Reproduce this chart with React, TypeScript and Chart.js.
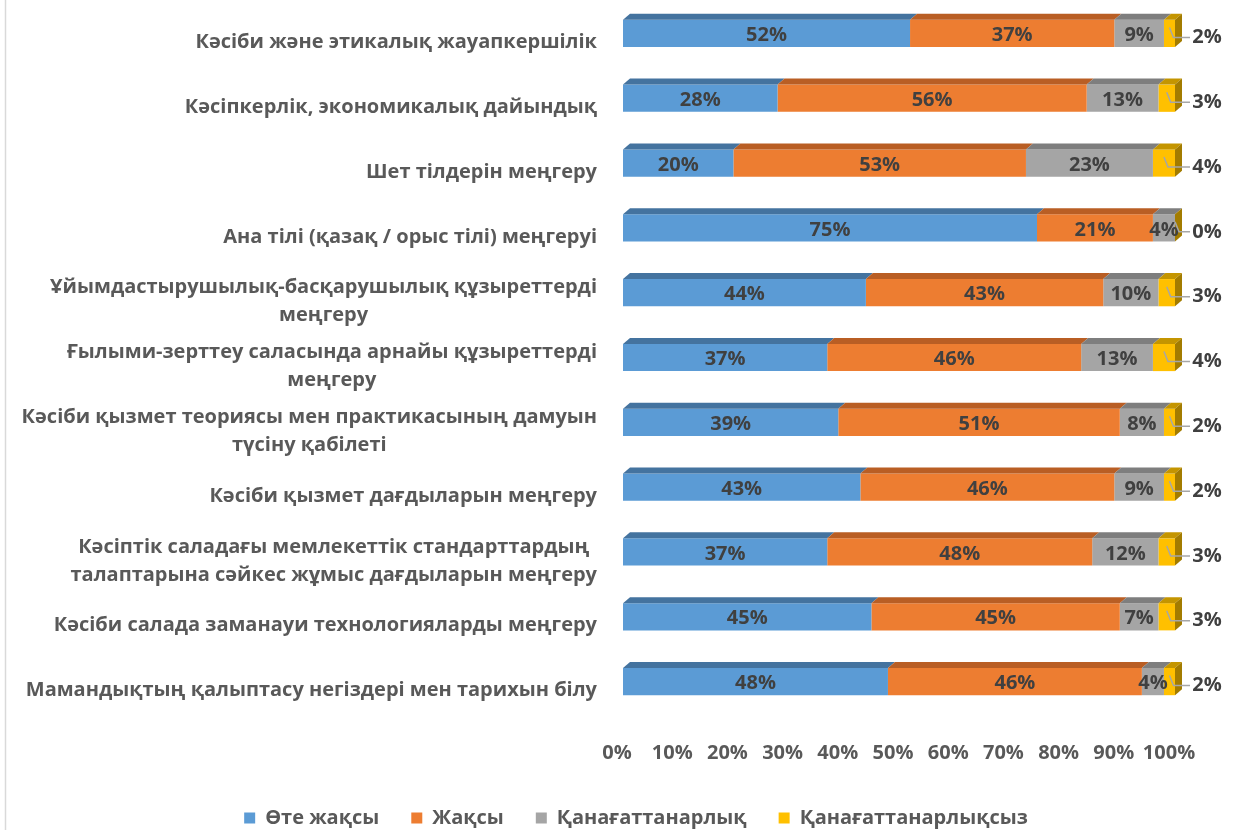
import { useEffect, useRef } from "react";
import { Chart, registerables } from "chart.js";

Chart.register(...registerables);

const categories: (string | string[])[] = [
  "Кәсіби және этикалық жауапкершілік",
  "Кәсіпкерлік, экономикалық дайындық",
  "Шет тілдерін меңгеру",
  "Ана тілі (қазақ / орыс тілі) меңгеруі",
  ["Ұйымдастырушылық-басқарушылық құзыреттерді", "меңгеру"],
  ["Ғылыми-зерттеу саласында арнайы құзыреттерді", "меңгеру"],
  ["Кәсіби қызмет теориясы мен практикасының дамуын", "түсіну қабілеті"],
  "Кәсіби қызмет дағдыларын меңгеру",
  ["Кәсіптік саладағы мемлекеттік стандарттардың", "талаптарына сәйкес жұмыс дағдыларын меңгеру"],
  "Кәсіби салада заманауи технологияларды меңгеру",
  "Мамандықтың қалыптасу негіздері мен тарихын білу",
];

const seriesNames = ["Өте жақсы", "Жақсы", "Қанағаттанарлық", "Қанағаттанарлықсыз"];

const veryGood = [52, 28, 20, 75, 44, 37, 39, 43, 37, 45, 48];
const good = [37, 56, 53, 21, 43, 46, 51, 46, 48, 45, 46];
const satisfactory = [9, 13, 23, 4, 10, 13, 8, 9, 12, 7, 4];
const unsatisfactory = [2, 3, 4, 0, 3, 4, 2, 2, 3, 3, 2];

const xTickValues = [0, 10, 20, 30, 40, 50, 60, 70, 80, 90, 100];

const frontColors = ["#5B9BD5", "#ED7D31", "#A5A5A5", "#FFC000"];
const topColors = ["#44739F", "#B95E24", "#7E7E7E", "#C49500"];
const sideColor = "#A37C00";

const FONT = "'Open Sans', 'Noto Sans', sans-serif";
const TEXT_GRAY = "#595959";
const VALUE_GRAY = "#404040";
const DX = 7;
const DY = 6;

const threeDPlugin = {
  id: "threeD",
  afterDatasetsDraw(chart: any) {
    const ctx = chart.ctx;
    const n = chart.data.datasets.length;
    ctx.save();
    for (let d = 0; d < n; d++) {
      const meta = chart.getDatasetMeta(d);
      meta.data.forEach((bar: any) => {
        const p = bar.getProps(["x", "y", "base", "height"], true);
        const top = p.y - p.height / 2;
        const bottom = p.y + p.height / 2;
        const x0 = Math.min(p.base, p.x);
        const x1 = Math.max(p.base, p.x);
        if (x1 - x0 > 0.1) {
          ctx.fillStyle = topColors[d];
          ctx.beginPath();
          ctx.moveTo(x0, top);
          ctx.lineTo(x1, top);
          ctx.lineTo(x1 + DX, top - DY);
          ctx.lineTo(x0 + DX, top - DY);
          ctx.closePath();
          ctx.fill();
        }
        if (d === n - 1) {
          ctx.fillStyle = sideColor;
          ctx.beginPath();
          ctx.moveTo(x1, top);
          ctx.lineTo(x1 + DX, top - DY);
          ctx.lineTo(x1 + DX, bottom - DY);
          ctx.lineTo(x1, bottom);
          ctx.closePath();
          ctx.fill();
        }
      });
    }
    ctx.restore();
  },
};

const labelsPlugin = {
  id: "valueLabels",
  afterDraw(chart: any) {
    const ctx = chart.ctx;
    const area = chart.chartArea;
    const n = chart.data.datasets.length;
    ctx.save();
    // left border line of chart frame
    ctx.strokeStyle = "#D9D9D9";
    ctx.lineWidth = 1.5;
    ctx.beginPath();
    ctx.moveTo(5.5, 0);
    ctx.lineTo(5.5, chart.height);
    ctx.stroke();

    // category labels
    const yScale = chart.scales.y;
    ctx.fillStyle = TEXT_GRAY;
    ctx.font = `bold 20px ${FONT}`;
    ctx.textBaseline = "middle";
    const rightX = area.left - 26;
    chart.data.labels.forEach((lab: any, i: number) => {
      const cy = yScale.getPixelForValue(i) + 9;
      if (Array.isArray(lab)) {
        const widths = lab.map((l: string) => ctx.measureText(l).width);
        const maxW = Math.max(...widths);
        const cx = rightX - maxW / 2;
        const lh = 28;
        ctx.textAlign = "center";
        lab.forEach((l: string, k: number) => {
          ctx.fillText(l, cx, cy + (k - (lab.length - 1) / 2) * lh);
        });
      } else {
        ctx.textAlign = "right";
        ctx.fillText(lab, rightX, cy);
      }
    });

    // value labels
    ctx.font = `bold 20px ${FONT}`;
    ctx.fillStyle = VALUE_GRAY;
    for (let d = 0; d < n; d++) {
      const meta = chart.getDatasetMeta(d);
      const values = chart.data.datasets[d].data;
      meta.data.forEach((bar: any, i: number) => {
        const p = bar.getProps(["x", "y", "base", "height"], true);
        const v = values[i];
        const text = `${v}%`;
        if (d < n - 1) {
          if (v <= 0) return;
          ctx.textAlign = "center";
          ctx.fillText(text, (p.x + p.base) / 2, p.y + 2);
        } else {
          const lx = area.right + 32;
          const ly = p.y + 4;
          const sx = (p.x + p.base) / 2;
          ctx.strokeStyle = "#A6A6A6";
          ctx.lineWidth = 1.5;
          ctx.beginPath();
          ctx.moveTo(sx, p.y - 6);
          ctx.lineTo(sx + 4, ly);
          ctx.lineTo(lx - 17, ly);
          ctx.stroke();
          ctx.textAlign = "center";
          ctx.fillText(text, lx, ly);
        }
      });
    }
    ctx.restore();
  },
};

export default function App() {
  const canvasRef = useRef<HTMLCanvasElement | null>(null);

  useEffect(() => {
    if (!canvasRef.current) return;
    const seriesData = [veryGood, good, satisfactory, unsatisfactory];
    const chart = new Chart(canvasRef.current, {
      type: "bar",
      data: {
        labels: categories as any,
        datasets: seriesNames.map((name, k) => ({
          label: name,
          data: seriesData[k],
          backgroundColor: frontColors[k],
          borderWidth: 0,
          barPercentage: 0.42,
          categoryPercentage: 1,
        })),
      },
      options: {
        indexAxis: "y",
        responsive: true,
        maintainAspectRatio: false,
        animation: false,
        layout: { padding: { left: 97, right: 63, top: 1, bottom: 0 } },
        scales: {
          x: {
            stacked: true,
            min: 0,
            max: 100,
            afterBuildTicks: (axis: any) => {
              axis.ticks = xTickValues.map((v) => ({ value: v }));
            },
            afterFit: (axis: any) => {
              axis.height = 62;
            },
            ticks: {
              callback: (v: any) => `${v}%`,
              color: TEXT_GRAY,
              font: { family: FONT, size: 20, weight: "bold" },
              padding: 19,
              labelOffset: -6,
              maxRotation: 0,
              autoSkip: false,
            },
            grid: { display: false },
            border: { display: false },
          },
          y: {
            stacked: true,
            display: true,
            ticks: { display: false },
            grid: { display: false },
            border: { display: false },
            afterFit: (axis: any) => {
              axis.width = 526;
            },
          },
        },
        plugins: {
          legend: {
            position: "bottom",
            maxHeight: 54,
            labels: {
              color: TEXT_GRAY,
              font: { family: FONT, size: 20, weight: "bold" },
              boxWidth: 11,
              boxHeight: 11,
              padding: 32,
            },
          },
          tooltip: { enabled: false },
        },
      },
      plugins: [threeDPlugin, labelsPlugin],
    });
    return () => chart.destroy();
  }, []);

  return (
    <div style={{ position: "fixed", left: 0, top: 0, width: 1238, height: 830, background: "#fff" }}>
      <canvas ref={canvasRef} />
    </div>
  );
}
